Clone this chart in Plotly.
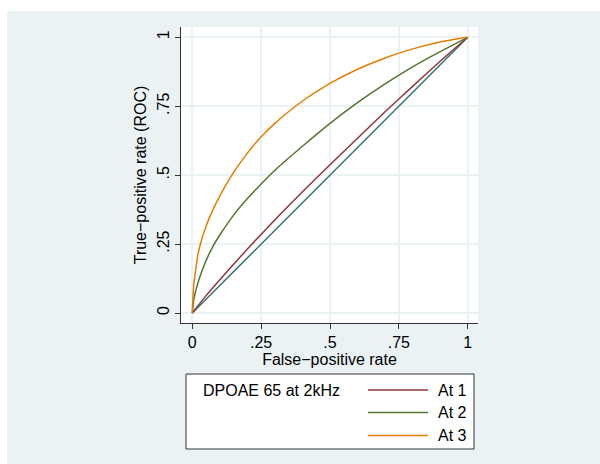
import plotly.graph_objects as go

# ---- data ----
series_names = ["At 1", "At 2", "At 3"]
legend_title = "DPOAE 65 at 2kHz"

fpr_at1 = [0, 0.05, 0.1, 0.2, 0.3, 0.4, 0.5, 0.6, 0.7, 0.8, 0.9, 1]
tpr_at1 = [0, 0.063, 0.121, 0.232, 0.338, 0.44, 0.538, 0.634, 0.73, 0.822, 0.913, 1]

fpr_at2 = [0, 0.005, 0.01, 0.02, 0.035, 0.05, 0.075, 0.1, 0.15, 0.2, 0.25, 0.3, 0.4, 0.5, 0.6, 0.7, 0.8, 0.9, 1]
tpr_at2 = [0, 0.045, 0.07, 0.108, 0.152, 0.19, 0.242, 0.283, 0.355, 0.415, 0.468, 0.518, 0.605, 0.688, 0.763, 0.831, 0.893, 0.948, 1]

fpr_at3 = [0, 0.005, 0.01, 0.02, 0.035, 0.05, 0.075, 0.1, 0.15, 0.2, 0.25, 0.3, 0.4, 0.5, 0.6, 0.7, 0.8, 0.9, 1]
tpr_at3 = [0, 0.1, 0.14, 0.21, 0.27, 0.315, 0.375, 0.425, 0.51, 0.58, 0.639, 0.688, 0.769, 0.833, 0.884, 0.925, 0.958, 0.983, 1]

ref_x = [0, 1]
ref_y = [0, 1]

tick_vals = [0, 0.25, 0.5, 0.75, 1]
tick_text = ["0", ".25", ".5", ".75", "1"]

colors = ["#90353b", "#55752f", "#e37e00"]
ref_color = "#2f7470"
bg = "#eaf2f3"
font_family = "Liberation Sans, Arial, sans-serif"
FS = 16

fig = go.Figure()
# reference diagonal first (drawn beneath)
fig.add_trace(go.Scatter(x=ref_x, y=ref_y, mode="lines",
                         line=dict(color=ref_color, width=1.5), showlegend=False, hoverinfo="skip"))
for xs, ys, c, n in zip([fpr_at1, fpr_at2, fpr_at3], [tpr_at1, tpr_at2, tpr_at3], colors, series_names):
    fig.add_trace(go.Scatter(x=xs, y=ys, mode="lines", name=n,
                             line=dict(color=c, width=1.5, shape="spline", smoothing=0.6),
                             showlegend=False))

W, H = 600, 464
L, R, T, B = 181, 478, 27, 323
pw, ph = R - L, B - T

def px(x):
    return (x - L) / pw

def py(y):
    return (B - y) / ph

shapes = []
# white strips at top and left of the page (outer frame)
shapes.append(dict(type="rect", xref="paper", yref="paper", x0=px(-5), x1=px(W + 5), y0=py(11), y1=py(-5),
                   fillcolor="white", line=dict(width=0), layer="below"))
shapes.append(dict(type="rect", xref="paper", yref="paper", x0=px(-5), x1=px(7), y0=py(H + 5), y1=py(-5),
                   fillcolor="white", line=dict(width=0), layer="below"))
# legend box
shapes.append(dict(type="rect", xref="paper", yref="paper", x0=px(186), x1=px(474), y0=py(449), y1=py(374),
                   fillcolor="white", line=dict(color="#333333", width=1)))
rows_y = [390, 412.5, 435.5]
annotations = []
for c, n, ry in zip(colors, series_names, rows_y):
    shapes.append(dict(type="line", xref="paper", yref="paper", x0=px(368), x1=px(428), y0=py(ry), y1=py(ry),
                       line=dict(color=c, width=1.5)))
    annotations.append(dict(x=px(436), y=py(ry), xref="paper", yref="paper", text=n, showarrow=False,
                            xanchor="left", yanchor="middle", font=dict(size=FS, color="black", family=font_family)))
annotations.append(dict(x=px(201), y=py(390), xref="paper", yref="paper", text=legend_title, showarrow=False,
                        xanchor="left", yanchor="middle", font=dict(size=FS, color="black", family=font_family)))

x0p, x1p = 192.3, 467.7
y0p, y1p = 313.0, 37.3
sx = (x1p - x0p)
sy = (y0p - y1p)
xr = [(L - x0p) / sx, (R - x0p) / sx]
yr = [(y0p - B) / sy, (y0p - T) / sy]

fig.update_layout(
    width=W, height=H,
    margin=dict(l=L, r=W - R, t=T, b=H - B, pad=0),
    paper_bgcolor=bg, plot_bgcolor="white",
    font=dict(family=font_family, size=FS, color="black"),
    shapes=shapes, annotations=annotations,
    xaxis=dict(range=xr, tickvals=tick_vals, ticktext=tick_text, showgrid=True, gridcolor=bg, gridwidth=1.5,
               zeroline=False, showline=True, linecolor="#333333", linewidth=1.2,
               ticks="outside", ticklen=5, tickcolor="#333333", tickwidth=1.2,
               tickfont=dict(size=FS), title=dict(text="False\u2212positive rate", font=dict(size=FS), standoff=0)),
    yaxis=dict(range=yr, tickvals=tick_vals, ticktext=tick_text, showgrid=True, gridcolor=bg, gridwidth=1.5,
               zeroline=False, showline=True, linecolor="#333333", linewidth=1.2,
               ticks="outside", ticklen=5, tickcolor="#333333", tickwidth=1.2, tickangle=-90,
               tickfont=dict(size=FS), title=dict(text="True\u2212positive rate (ROC)", font=dict(size=FS), standoff=3)),
)

fig.write_html("out.html", config={"displayModeBar": False},
               post_script="document.body.style.margin='0px';document.body.style.overflow='hidden';")
